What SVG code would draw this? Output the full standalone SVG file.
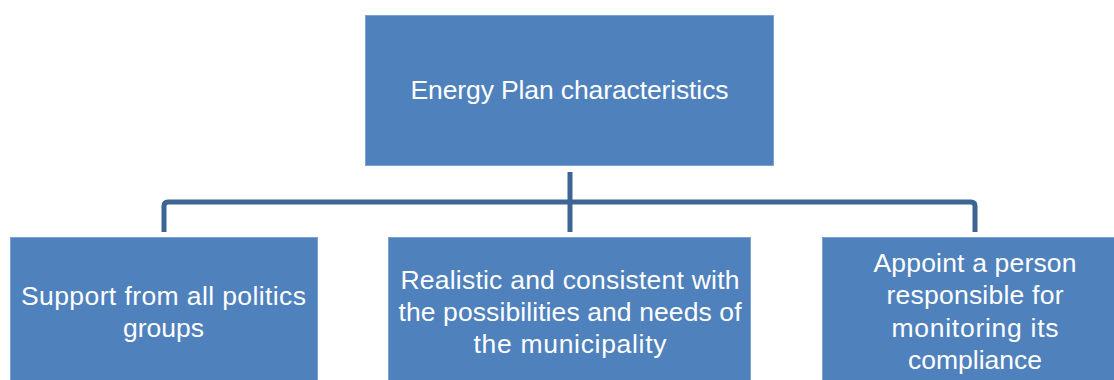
<svg xmlns="http://www.w3.org/2000/svg" width="1114" height="380" viewBox="0 0 1114 380">
  <style>
    .box { fill: #4F81BD; stroke: #7EA1CF; stroke-width: 1; }
    .lbl { font-family: "Liberation Sans", Arial, sans-serif; font-size: 26.5px; fill: #FFFFFF; text-anchor: middle; }
    .conn { fill: none; stroke: #3C6595; stroke-width: 5; }
  </style>
  <rect width="1114" height="380" fill="#FFFFFF"/>

  <g id="connectors">
    <path class="conn" d="M570,172 V232"/>
    <path class="conn" d="M164,232 V206 Q164,202 168,202 H971 Q975,202 975,206 V232"/>
  </g>

  <g id="root">
    <rect class="box" x="365.5" y="15.5" width="408" height="150"/>
    <text class="lbl" x="569.5" y="98.5" textLength="318">Energy Plan characteristics</text>
  </g>

  <g id="support">
    <rect class="box" x="10.5" y="237.5" width="307" height="150"/>
    <text class="lbl" x="163.5" y="304.5" textLength="285">Support from all politics</text>
    <text class="lbl" x="163.5" y="336.5" textLength="81">groups</text>
  </g>

  <g id="realistic">
    <rect class="box" x="388.5" y="237.5" width="362" height="150"/>
    <text class="lbl" x="570" y="288.5" textLength="339">Realistic and consistent with</text>
    <text class="lbl" x="570" y="320.5" textLength="343">the possibilities and needs of</text>
    <text class="lbl" x="570" y="352.5" textLength="193">the municipality</text>
  </g>

  <g id="appoint">
    <rect class="box" x="822.5" y="237.5" width="306" height="150"/>
    <text class="lbl" x="975" y="271.5" textLength="203">Appoint a person</text>
    <text class="lbl" x="975" y="304" textLength="177">responsible for</text>
    <text class="lbl" x="975" y="336.5" textLength="167">monitoring its</text>
    <text class="lbl" x="975" y="368.5" textLength="134">compliance</text>
  </g>
</svg>
